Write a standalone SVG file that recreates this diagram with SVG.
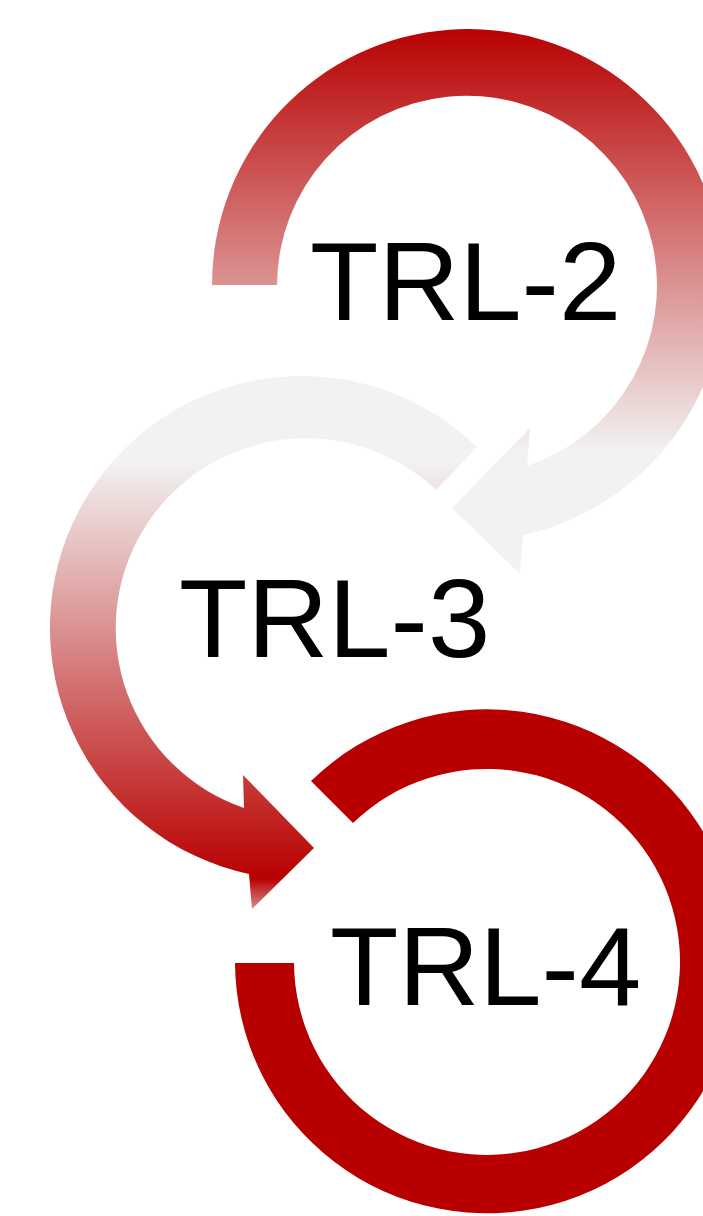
<svg xmlns="http://www.w3.org/2000/svg" width="703" height="1216" viewBox="0 0 703 1216">
  <style>
    .label { font-family: "Liberation Sans", Arial, sans-serif; font-size: 112px; fill: #000000; }
    .solid { fill: #B80000; }
  </style>
  <defs>
    <!-- fading red to grey, top to bottom -->
    <linearGradient id="fadeDown" gradientUnits="userSpaceOnUse" x1="0" y1="27" x2="0" y2="452">
      <stop offset="0" stop-color="#B80000"/>
      <stop offset="1" stop-color="#F2F2F2"/>
    </linearGradient>
    <!-- grey to red, top to bottom, easing back at the tip -->
    <linearGradient id="fadeUp" gradientUnits="userSpaceOnUse" x1="0" y1="462" x2="0" y2="910">
      <stop offset="0" stop-color="#F2F2F2"/>
      <stop offset="0.93" stop-color="#B80000"/>
      <stop offset="1" stop-color="#DC9090"/>
    </linearGradient>
  </defs>

  <!-- stage TRL-2: clockwise arrow -->
  <g id="trl2">
    <path fill="url(#fadeDown)" d="M212,285 A256,256 0 1 1 523,535 L520,574 L452,508 L530,428 L527,466 A190,190 0 1 0 277,285 Z"/>
    <text class="label" x="310" y="320">TRL-2</text>
  </g>

  <!-- stage TRL-3: counter-clockwise arrow -->
  <g id="trl3">
    <path fill="url(#fadeUp)" d="M477,447 A251.8,251.8 0 1 0 249,874 L252,909 L314,848 L243,775 L244,808 A190,190 0 1 1 436,490 Z"/>
    <text class="label" x="179" y="657">TRL-3</text>
  </g>

  <!-- stage TRL-4: open ring -->
  <g id="trl4">
    <path class="solid" d="M311,781 A252,252 0 1 1 235,963 L294,963 A193,193 0 1 0 353,823 Z"/>
    <text class="label" x="330" y="1005">TRL-4</text>
  </g>

  <g id="connectors"/>
</svg>
